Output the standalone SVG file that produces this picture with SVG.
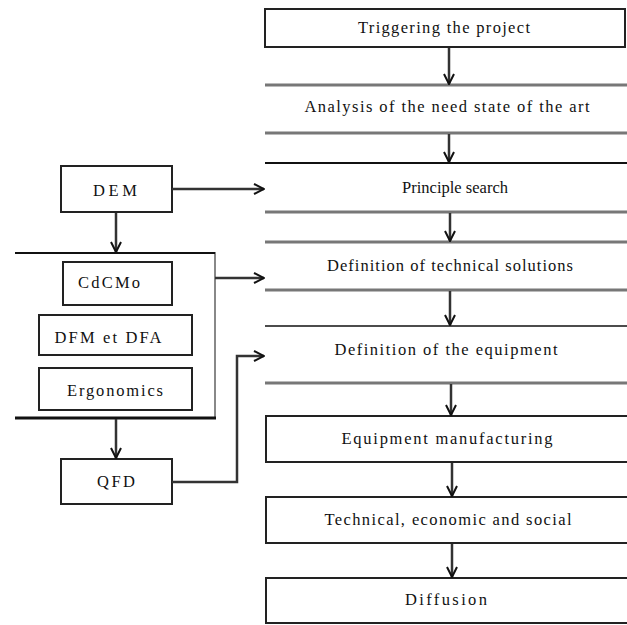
<svg xmlns="http://www.w3.org/2000/svg" width="627" height="625" viewBox="0 0 627 625">
  <style>
    text { font-size: 16.5px; fill: #111; text-anchor: middle; }
    .box { fill: #fff; stroke: #222; stroke-width: 2; }
    .band { stroke: #777; stroke-width: 3; }
    .bandk { stroke: #111; stroke-width: 2; }
    .thin { stroke: #111; stroke-width: 1.5; }
    .conn { fill: none; stroke: #333; stroke-width: 2.5; }
    .frame { fill: none; stroke: #888; stroke-width: 2; }
  </style>
  <defs>
    <marker id="vee" viewBox="0 0 12 12" refX="11" refY="6" markerWidth="12" markerHeight="12" markerUnits="userSpaceOnUse" orient="auto">
      <path d="M1,1 L11,6 L1,11" fill="none" stroke="#111" stroke-width="2"/>
    </marker>
  </defs>
  <rect width="627" height="625" fill="#fff"/>

  <g font-family="Liberation Serif, Times New Roman, serif">
  <!-- main process chain -->
  <g id="n-trigger">
    <rect class="box" x="265" y="9" width="360" height="38"/>
    <text x="444" y="33" textLength="172" lengthAdjust="spacing">Triggering the project</text>
  </g>
  <g id="n-analysis">
    <line class="band" x1="265" y1="85" x2="627" y2="85"/>
    <line class="band" x1="265" y1="133" x2="627" y2="133"/>
    <text x="447" y="112" textLength="285" lengthAdjust="spacing">Analysis of the need state of the art</text>
  </g>
  <g id="n-principle">
    <line class="bandk" x1="265" y1="163" x2="627" y2="163"/>
    <line class="band" x1="265" y1="212" x2="627" y2="212"/>
    <text x="455" y="193" textLength="106" lengthAdjust="spacing">Principle search</text>
  </g>
  <g id="n-techsol">
    <line class="band" x1="265" y1="242" x2="627" y2="242"/>
    <line class="band" x1="265" y1="290" x2="627" y2="290"/>
    <text x="450" y="271" textLength="246" lengthAdjust="spacing">Definition of technical solutions</text>
  </g>
  <g id="n-equipdef">
    <line class="thin" x1="265" y1="326" x2="627" y2="326"/>
    <line class="band" x1="265" y1="383" x2="627" y2="383"/>
    <text x="446" y="355" textLength="223" lengthAdjust="spacing">Definition of the equipment</text>
  </g>
  <g id="n-manufacturing">
    <rect class="box" x="266" y="416" width="362" height="46"/>
    <text x="447" y="444" textLength="211" lengthAdjust="spacing">Equipment manufacturing</text>
  </g>
  <g id="n-evaluation">
    <rect class="box" x="266" y="497" width="362" height="46"/>
    <text x="448" y="525" textLength="247" lengthAdjust="spacing">Technical, economic and social</text>
  </g>
  <g id="n-diffusion">
    <rect class="box" x="266" y="578" width="362" height="45"/>
    <text x="446" y="605" textLength="82" lengthAdjust="spacing">Diffusion</text>
  </g>

  <!-- design tools -->
  <g id="n-dem">
    <rect class="box" x="61" y="166" width="111" height="46"/>
    <text x="115" y="196" textLength="44" lengthAdjust="spacing">DEM</text>
  </g>
  <g id="n-tools">
    <path class="frame" d="M15,253 H215 V418"/>
    <line x1="15" y1="253" x2="215" y2="253" stroke="#111" stroke-width="2"/>
    <line x1="15" y1="418" x2="216" y2="418" stroke="#111" stroke-width="3"/>
  </g>
  <g id="n-cdcmo">
    <rect class="box" x="63" y="262" width="109" height="43"/>
    <text x="109" y="288" textLength="62" lengthAdjust="spacing">CdCMo</text>
  </g>
  <g id="n-dfm">
    <rect class="box" x="39" y="315" width="153" height="40"/>
    <text x="108" y="343" textLength="107" lengthAdjust="spacing">DFM et DFA</text>
  </g>
  <g id="n-ergonomics">
    <rect class="box" x="39" y="368" width="153" height="42"/>
    <text x="115" y="396" textLength="96" lengthAdjust="spacing">Ergonomics</text>
  </g>
  <g id="n-qfd">
    <rect class="box" x="61" y="459" width="111" height="45"/>
    <text x="116" y="487" textLength="38" lengthAdjust="spacing">QFD</text>
  </g>
  </g>

  <!-- connectors -->
  <g id="connectors">
    <line class="conn" x1="449" y1="48" x2="449" y2="84" marker-end="url(#vee)"/>
    <line class="conn" x1="449" y1="134" x2="449" y2="162" marker-end="url(#vee)"/>
    <line class="conn" x1="450" y1="213" x2="450" y2="241" marker-end="url(#vee)"/>
    <line class="conn" x1="450" y1="291" x2="450" y2="325" marker-end="url(#vee)"/>
    <line class="conn" x1="451" y1="384" x2="451" y2="415" marker-end="url(#vee)"/>
    <line class="conn" x1="452" y1="463" x2="452" y2="496" marker-end="url(#vee)"/>
    <line class="conn" x1="452" y1="544" x2="452" y2="577" marker-end="url(#vee)"/>
    <line class="conn" x1="172" y1="189" x2="264" y2="189" marker-end="url(#vee)"/>
    <line class="conn" x1="116" y1="213" x2="116" y2="252" marker-end="url(#vee)"/>
    <line class="conn" x1="215" y1="278" x2="264" y2="278" marker-end="url(#vee)"/>
    <line class="conn" x1="116" y1="419" x2="116" y2="458" marker-end="url(#vee)"/>
    <polyline class="conn" points="172,482 237,482 237,356 264,356" marker-end="url(#vee)"/>
  </g>
</svg>
